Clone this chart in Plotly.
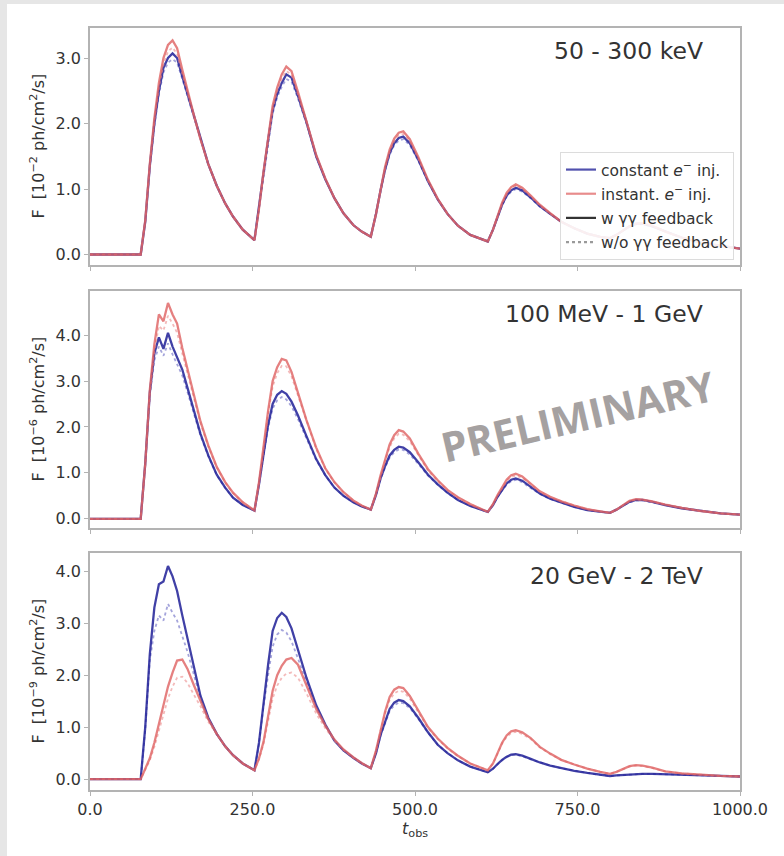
import plotly.graph_objects as go

# ---- time grid (observer time) shared by all light curves ----
t_obs = [0, 78, 85, 92, 99, 106, 113, 120, 127, 134, 142, 150, 160, 170, 182, 195, 208, 220, 235, 253,
         260, 267, 274, 281, 288, 295, 302, 310, 320, 333, 348, 362, 376, 390, 405, 418, 432,
         440, 447, 454, 461, 468, 475, 482, 492, 505, 520, 535, 550, 566, 585, 612,
         620, 627, 634, 641, 648, 655, 665, 678, 692, 708, 725, 745, 765, 785, 800,
         810, 820, 830, 840, 850, 865, 885, 910, 940, 970, 1000]

# ---- 50 - 300 keV  [1e-2 ph/cm2/s] ----
kev_const_w = [0, 0, 0.5, 1.35, 2.0, 2.5, 2.85, 3.0, 3.07, 3.0, 2.72, 2.45, 2.1, 1.75, 1.38, 1.05, 0.78, 0.58, 0.38, 0.22,
               0.7, 1.25, 1.75, 2.2, 2.45, 2.62, 2.75, 2.7, 2.42, 2.02, 1.5, 1.15, 0.86, 0.63, 0.45, 0.35, 0.27,
               0.62, 0.98, 1.3, 1.55, 1.7, 1.78, 1.8, 1.7, 1.45, 1.12, 0.84, 0.62, 0.44, 0.3, 0.2,
               0.38, 0.58, 0.76, 0.9, 0.98, 1.02, 0.98, 0.87, 0.74, 0.62, 0.5, 0.4, 0.32, 0.27, 0.25,
               0.3, 0.37, 0.43, 0.47, 0.47, 0.43, 0.35, 0.26, 0.18, 0.13, 0.09]
kev_const_wo = [0, 0, 0.5, 1.33, 1.96, 2.44, 2.78, 2.93, 2.98, 2.93, 2.68, 2.42, 2.08, 1.74, 1.37, 1.05, 0.78, 0.58, 0.38, 0.22,
                0.7, 1.24, 1.72, 2.15, 2.4, 2.56, 2.68, 2.64, 2.38, 2.0, 1.49, 1.15, 0.86, 0.63, 0.45, 0.35, 0.27,
                0.62, 0.97, 1.28, 1.52, 1.67, 1.74, 1.76, 1.67, 1.43, 1.11, 0.84, 0.62, 0.44, 0.3, 0.2,
                0.38, 0.57, 0.75, 0.88, 0.96, 1.0, 0.96, 0.86, 0.73, 0.62, 0.5, 0.4, 0.32, 0.27, 0.25,
                0.3, 0.37, 0.43, 0.46, 0.46, 0.43, 0.35, 0.26, 0.18, 0.13, 0.09]
kev_inst_w = [0, 0, 0.52, 1.38, 2.08, 2.62, 3.0, 3.2, 3.27, 3.15, 2.82, 2.5, 2.12, 1.76, 1.38, 1.05, 0.78, 0.58, 0.38, 0.22,
              0.7, 1.27, 1.8, 2.27, 2.55, 2.75, 2.87, 2.8, 2.48, 2.05, 1.52, 1.16, 0.86, 0.63, 0.45, 0.35, 0.27,
              0.62, 1.0, 1.34, 1.6, 1.77, 1.86, 1.88, 1.76, 1.49, 1.14, 0.85, 0.62, 0.44, 0.3, 0.2,
              0.38, 0.6, 0.79, 0.94, 1.03, 1.07, 1.02, 0.9, 0.76, 0.63, 0.5, 0.4, 0.32, 0.27, 0.25,
              0.3, 0.37, 0.43, 0.47, 0.48, 0.44, 0.35, 0.26, 0.18, 0.13, 0.09]
kev_inst_wo = [0, 0, 0.51, 1.36, 2.04, 2.55, 2.9, 3.1, 3.16, 3.06, 2.76, 2.47, 2.1, 1.75, 1.38, 1.05, 0.78, 0.58, 0.38, 0.22,
               0.7, 1.26, 1.77, 2.22, 2.5, 2.68, 2.8, 2.75, 2.45, 2.04, 1.51, 1.16, 0.86, 0.63, 0.45, 0.35, 0.27,
               0.62, 0.99, 1.32, 1.57, 1.73, 1.82, 1.84, 1.73, 1.47, 1.13, 0.85, 0.62, 0.44, 0.3, 0.2,
               0.38, 0.59, 0.78, 0.92, 1.01, 1.05, 1.0, 0.89, 0.75, 0.63, 0.5, 0.4, 0.32, 0.27, 0.25,
               0.3, 0.37, 0.43, 0.47, 0.47, 0.44, 0.35, 0.26, 0.18, 0.13, 0.09]

# ---- 100 MeV - 1 GeV  [1e-6 ph/cm2/s] ----
mev_const_w = [0, 0, 1.2, 2.75, 3.6, 3.95, 3.7, 4.05, 3.75, 3.5, 3.25, 2.85, 2.35, 1.85, 1.38, 0.96, 0.68, 0.46, 0.3, 0.18,
               0.75, 1.45, 2.05, 2.5, 2.7, 2.78, 2.72, 2.55, 2.25, 1.8, 1.3, 0.95, 0.68, 0.5, 0.36, 0.27, 0.2,
               0.52, 0.88, 1.15, 1.38, 1.5, 1.57, 1.55, 1.45, 1.23, 0.96, 0.75, 0.57, 0.41, 0.28, 0.15,
               0.3, 0.48, 0.64, 0.77, 0.85, 0.88, 0.83, 0.69, 0.55, 0.44, 0.35, 0.26, 0.19, 0.15, 0.13,
               0.2, 0.29, 0.37, 0.41, 0.41, 0.37, 0.3, 0.23, 0.17, 0.12, 0.09]
mev_const_wo = [0, 0, 1.18, 2.68, 3.45, 3.75, 3.55, 3.82, 3.58, 3.36, 3.12, 2.76, 2.29, 1.81, 1.36, 0.95, 0.67, 0.46, 0.3, 0.18,
                0.75, 1.42, 1.98, 2.4, 2.58, 2.65, 2.6, 2.45, 2.17, 1.75, 1.28, 0.94, 0.68, 0.5, 0.36, 0.27, 0.2,
                0.52, 0.86, 1.12, 1.33, 1.45, 1.51, 1.5, 1.4, 1.2, 0.94, 0.74, 0.56, 0.41, 0.28, 0.15,
                0.3, 0.47, 0.62, 0.74, 0.82, 0.85, 0.8, 0.67, 0.54, 0.43, 0.35, 0.26, 0.19, 0.15, 0.13,
                0.2, 0.29, 0.36, 0.4, 0.4, 0.36, 0.3, 0.23, 0.17, 0.12, 0.09]
mev_inst_w = [0, 0, 1.2, 2.8, 3.8, 4.45, 4.3, 4.7, 4.45, 4.25, 3.72, 3.25, 2.7, 2.12, 1.6, 1.13, 0.8, 0.57, 0.36, 0.18,
              0.8, 1.6, 2.35, 3.0, 3.3, 3.48, 3.45, 3.2, 2.75, 2.15, 1.55, 1.1, 0.8, 0.58, 0.4, 0.29, 0.2,
              0.55, 0.95, 1.3, 1.62, 1.82, 1.93, 1.9, 1.75, 1.42, 1.08, 0.84, 0.63, 0.47, 0.32, 0.15,
              0.32, 0.52, 0.7, 0.85, 0.95, 0.98, 0.92, 0.76, 0.6, 0.48, 0.38, 0.29, 0.21, 0.16, 0.13,
              0.2, 0.3, 0.39, 0.43, 0.42, 0.38, 0.31, 0.24, 0.17, 0.12, 0.09]
mev_inst_wo = [0, 0, 1.18, 2.72, 3.65, 4.2, 4.1, 4.42, 4.25, 4.05, 3.6, 3.15, 2.63, 2.08, 1.57, 1.12, 0.79, 0.56, 0.36, 0.18,
               0.8, 1.57, 2.28, 2.88, 3.17, 3.33, 3.32, 3.1, 2.68, 2.1, 1.52, 1.09, 0.79, 0.58, 0.4, 0.29, 0.2,
               0.55, 0.93, 1.27, 1.56, 1.75, 1.85, 1.83, 1.69, 1.38, 1.05, 0.82, 0.62, 0.47, 0.32, 0.15,
               0.32, 0.51, 0.68, 0.82, 0.91, 0.94, 0.89, 0.74, 0.59, 0.47, 0.38, 0.29, 0.21, 0.16, 0.13,
               0.2, 0.3, 0.38, 0.42, 0.41, 0.37, 0.31, 0.24, 0.17, 0.12, 0.09]

# ---- 20 GeV - 2 TeV  [1e-9 ph/cm2/s] ----
gev_const_w = [0, 0, 1.0, 2.4, 3.3, 3.75, 3.8, 4.1, 3.9, 3.62, 3.15, 2.7, 2.12, 1.6, 1.18, 0.87, 0.63, 0.46, 0.3, 0.17,
               0.7, 1.5, 2.2, 2.85, 3.1, 3.2, 3.12, 2.9, 2.48, 1.95, 1.42, 1.05, 0.74, 0.55, 0.41, 0.3, 0.21,
               0.5, 0.85, 1.12, 1.35, 1.47, 1.52, 1.5, 1.4, 1.18, 0.9, 0.66, 0.5, 0.36, 0.24, 0.13,
               0.2, 0.29, 0.37, 0.43, 0.47, 0.48, 0.45, 0.39, 0.32, 0.26, 0.21, 0.16, 0.12, 0.08, 0.06,
               0.07, 0.08, 0.09, 0.1, 0.1, 0.1, 0.09, 0.08, 0.07, 0.06, 0.05]
gev_const_wo = [0, 0, 0.95, 2.28, 2.85, 3.15, 3.05, 3.37, 3.2, 3.05, 2.75, 2.45, 2.0, 1.55, 1.16, 0.86, 0.63, 0.46, 0.3, 0.17,
                0.68, 1.4, 2.0, 2.55, 2.78, 2.87, 2.82, 2.65, 2.32, 1.86, 1.38, 1.03, 0.74, 0.55, 0.41, 0.3, 0.21,
                0.5, 0.83, 1.09, 1.31, 1.42, 1.47, 1.46, 1.37, 1.16, 0.89, 0.66, 0.5, 0.36, 0.24, 0.13,
                0.2, 0.28, 0.36, 0.42, 0.46, 0.47, 0.44, 0.38, 0.32, 0.26, 0.21, 0.16, 0.12, 0.08, 0.06,
                0.07, 0.08, 0.09, 0.1, 0.1, 0.1, 0.09, 0.08, 0.07, 0.06, 0.05]
gev_inst_w = [0, 0, 0.2, 0.4, 0.7, 1.05, 1.45, 1.78, 2.05, 2.28, 2.3, 2.12, 1.8, 1.52, 1.15, 0.87, 0.63, 0.46, 0.3, 0.17,
              0.4, 0.72, 1.2, 1.7, 2.0, 2.18, 2.3, 2.33, 2.2, 1.82, 1.35, 1.03, 0.76, 0.57, 0.42, 0.31, 0.21,
              0.55, 0.95, 1.3, 1.58, 1.72, 1.77, 1.75, 1.6, 1.32, 1.0, 0.78, 0.6, 0.45, 0.3, 0.17,
              0.3, 0.5, 0.7, 0.84, 0.92, 0.94, 0.9, 0.79, 0.62, 0.49, 0.37, 0.28, 0.2, 0.14, 0.1,
              0.14, 0.2, 0.25, 0.27, 0.26, 0.22, 0.15, 0.11, 0.08, 0.06, 0.05]
gev_inst_wo = [0, 0, 0.18, 0.36, 0.62, 0.92, 1.27, 1.55, 1.78, 1.95, 1.97, 1.85, 1.62, 1.4, 1.1, 0.85, 0.62, 0.45, 0.3, 0.17,
               0.38, 0.68, 1.1, 1.55, 1.8, 1.95, 2.03, 2.05, 1.95, 1.65, 1.26, 0.98, 0.74, 0.56, 0.41, 0.3, 0.21,
               0.55, 0.93, 1.26, 1.52, 1.65, 1.7, 1.68, 1.55, 1.29, 0.98, 0.77, 0.59, 0.44, 0.3, 0.17,
               0.3, 0.49, 0.68, 0.81, 0.89, 0.91, 0.87, 0.77, 0.61, 0.48, 0.37, 0.28, 0.2, 0.14, 0.1,
               0.14, 0.19, 0.24, 0.26, 0.25, 0.21, 0.15, 0.11, 0.08, 0.06, 0.05]

band_titles = ["50 - 300 keV", "100 MeV - 1 GeV", "20 GeV - 2 TeV"]
flux_exponents = ["\u22122", "\u22126", "\u22129"]
x_ticks = [0, 250, 500, 750, 1000]
y_ticks = [[0, 1, 2, 3], [0, 1, 2, 3, 4], [0, 1, 2, 3, 4]]
y_ranges = [[-0.16, 3.458], [-0.2, 4.96], [-0.21, 4.35]]

# ---- page geometry (pixels) ----
W, H = 784, 856
X_LEFT, X_RIGHT = 90, 740
PANEL_ROWS = [(28, 265), (291, 528), (553, 790)]

def fx(p):
    return p / W

def fy(p):
    return 1 - p / H

BLUE = "rgba(30,30,150,0.85)"
BLUE_LIGHT = "rgba(90,90,190,0.55)"
RED = "rgba(222,96,96,0.8)"
RED_LIGHT = "rgba(235,140,140,0.6)"
FONT = "DejaVu Sans"
TXT = "#333333"
SPINE = "#b3b3b3"

panels = [
    (kev_const_w, kev_const_wo, kev_inst_w, kev_inst_wo),
    (mev_const_w, mev_const_wo, mev_inst_w, mev_inst_wo),
    (gev_const_w, gev_const_wo, gev_inst_w, gev_inst_wo),
]

fig = go.Figure()

for i, (cw, cwo, iw, iwo) in enumerate(panels):
    ax = "" if i == 0 else str(i + 1)
    for ys, col, dash, wdt in [(cwo, BLUE_LIGHT, "dot", 1.8), (cw, BLUE, "solid", 2.3),
                               (iwo, RED_LIGHT, "dot", 1.8), (iw, RED, "solid", 2.3)]:
        fig.add_trace(go.Scatter(x=t_obs, y=ys, mode="lines", showlegend=False,
                                 line=dict(color=col, width=wdt, dash=dash),
                                 xaxis="x" + ax, yaxis="y" + ax, hoverinfo="skip"))

# legend entries
legend_items = [
    ("constant <i>e</i><sup>\u2212</sup> inj.", "rgba(50,50,160,0.85)", "solid"),
    ("instant. <i>e</i><sup>\u2212</sup> inj.", "rgba(228,120,120,0.85)", "solid"),
    ("w \u03b3\u03b3 feedback", "#333333", "solid"),
    ("w/o \u03b3\u03b3 feedback", "#9a9a9a", "dot"),
]
for k, (name, col, dash) in enumerate(legend_items):
    fig.add_trace(go.Scatter(x=[None], y=[None], mode="lines", name=name,
                             legendgroup=str(k),
                             line=dict(color=col, width=2.2, dash=dash),
                             xaxis="x", yaxis="y"))

layout = dict(
    template="none",
    width=W, height=H, autosize=False,
    margin=dict(l=0, r=0, t=0, b=0, pad=0, autoexpand=False),
    paper_bgcolor="white", plot_bgcolor="white",
    font=dict(family=FONT, color=TXT),
    showlegend=True,
    legend=dict(x=fx(734), xanchor="right", y=fy(152), yanchor="top",
                bgcolor="rgba(255,255,255,0.9)", bordercolor="#dcdcdc", borderwidth=1,
                font=dict(family=FONT, size=15.5, color=TXT), tracegroupgap=1,
                itemwidth=30),
)

common = dict(showline=True, linecolor=SPINE, linewidth=1.5, mirror=True,
              ticks="outside", ticklen=4, tickwidth=1, tickcolor=SPINE,
              showgrid=False, zeroline=False, automargin=False,
              tickfont=dict(family=FONT, size=16, color=TXT))

annotations = []
for i, (top, bot) in enumerate(PANEL_ROWS):
    ax = "" if i == 0 else str(i + 1)
    layout["xaxis" + ax] = dict(common, domain=[fx(X_LEFT), fx(X_RIGHT)], range=[0, 1000],
                                tickvals=x_ticks, tickformat=".1f",
                                showticklabels=(i == 2), anchor="y" + ax)
    layout["yaxis" + ax] = dict(common, domain=[fy(bot), fy(top)], range=y_ranges[i],
                                tickvals=y_ticks[i], tickformat=".1f", anchor="x" + ax)
    annotations.append(dict(text=band_titles[i], xref="paper", yref="paper",
                            x=fx(705), y=fy(top + 23), xanchor="right", yanchor="middle",
                            showarrow=False, font=dict(family=FONT, size=23.5, color=TXT)))
    annotations.append(dict(text="F\u00a0 [10<sup>%s</sup> ph/cm<sup>2</sup>/s]" % flux_exponents[i],
                            xref="paper", yref="paper", x=fx(38), y=fy((top + bot) / 2),
                            xanchor="center", yanchor="middle", textangle=-90,
                            showarrow=False, font=dict(family=FONT, size=16, color=TXT)))

annotations.append(dict(text="<i>t</i><sub>obs</sub>", xref="paper", yref="paper",
                        x=fx((X_LEFT + X_RIGHT) / 2), y=fy(829), xanchor="center", yanchor="middle",
                        showarrow=False, font=dict(family=FONT, size=16, color=TXT)))
annotations.append(dict(text="<b>PRELIMINARY</b>", xref="paper", yref="paper",
                        x=fx(577), y=fy(416), xanchor="center", yanchor="middle",
                        textangle=-13, showarrow=False,
                        font=dict(family="Open Sans", size=41, color="#a5a1a1")))
layout["annotations"] = annotations

# light grey frame on the left and top edges
layout["shapes"] = [
    dict(type="rect", xref="paper", yref="paper", x0=0, x1=fx(7), y0=0, y1=1,
         fillcolor="#e6e6e6", line=dict(width=0), layer="below"),
    dict(type="rect", xref="paper", yref="paper", x0=0, x1=1, y0=fy(4), y1=1,
         fillcolor="#e6e6e6", line=dict(width=0), layer="below"),
]

fig.update_layout(**layout)
fig.write_html("out.html")
